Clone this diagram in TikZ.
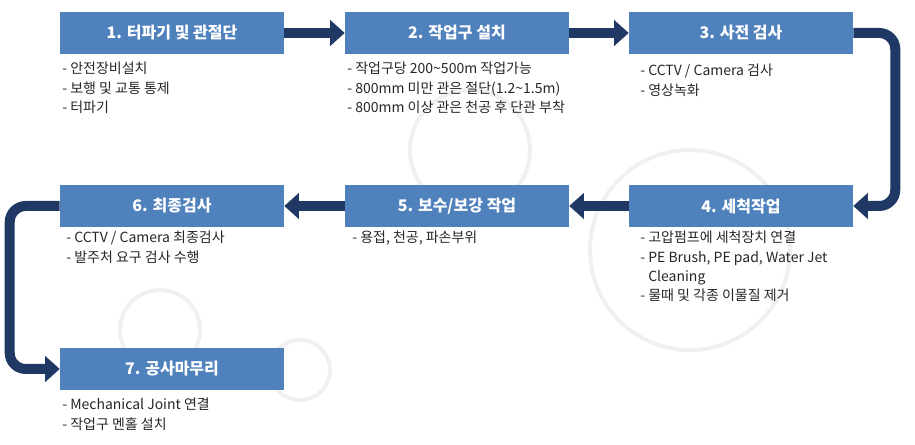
\documentclass[tikz,border=0pt]{standalone}
\usepackage{fontspec}
\setmainfont{Noto Sans CJK KR}
\usetikzlibrary{arrows.meta,positioning}
\definecolor{boxblue}{HTML}{4F81BD}
\definecolor{flownavy}{HTML}{1F3864}

\begin{document}
\begin{tikzpicture}[
  x=0.75pt, y=-0.75pt,
  stepbox/.style = {fill=boxblue, minimum width=168pt, minimum height=32pt,
                    inner sep=0pt, text=white, font=\fontsize{12}{14}\selectfont\bfseries},
  notes/.style   = {anchor=north west, align=left, inner sep=0pt,
                    font=\fontsize{10.5}{14.5}\selectfont, text=black!85},
  flow/.style    = {draw=flownavy, line width=7.5pt, rounded corners=12pt,
                    -{Triangle[width=19pt,length=11pt]}}
]
  \useasboundingbox (0,0) rectangle (915,445);
  % background rings
  \foreach \cx/\cy/\r in {470/150/60, 690/250/100, 160/330/40, 300/370/30}
    \draw[black!6, line width=3pt] (\cx,\cy) circle (\r);

  % steps
  \node[stepbox] (s1) at (172,33)  {1. 터파기 및 관절단};
  \node[stepbox] (s2) at (457,33)  {2. 작업구 설치};
  \node[stepbox] (s3) at (741,33)  {3. 사전 검사};
  \node[stepbox] (s4) at (741,206) {4. 세척작업};
  \node[stepbox] (s5) at (457,206) {5. 보수/보강 작업};
  \node[stepbox] (s6) at (172,206) {6. 최종검사};
  \node[stepbox] (s7) at (172,369) {7. 공사마무리};

  % notes
  \node[notes] at (62,62)  {- 안전장비설치\\- 보행 및 교통 통제\\- 터파기};
  \node[notes] at (347,62) {- 작업구당 200\textasciitilde500m 작업가능\\- 800mm 미만 관은 절단(1.2\textasciitilde1.5m)\\- 800mm 이상 관은 천공 후 단관 부착};
  \node[notes] at (640,64) {- CCTV / Camera 검사\\- 영상녹화};
  \node[notes] at (640,231) {- 고압펌프에 세척장치 연결\\- PE Brush, PE pad, Water Jet\\\phantom{- }Cleaning\\- 물때 및 각종 이물질 제거};
  \node[notes] at (352,231) {- 용접, 천공, 파손부위};
  \node[notes] at (66,231) {- CCTV / Camera 최종검사\\- 발주처 요구 검사 수행};
  \node[notes] at (62,398) {- Mechanical Joint 연결\\- 작업구 멘홀 설치};

  % flow
  \draw[flow] (s1) -- (s2);
  \draw[flow] (s2) -- (s3);
  \draw[flow] (s3.east) -- ++(42,0) |- (s4.east);
  \draw[flow] (s4) -- (s5);
  \draw[flow] (s5) -- (s6);
  \draw[flow] (s6.west) -- ++(-50,0) |- (s7.west);
\end{tikzpicture}
\end{document}
